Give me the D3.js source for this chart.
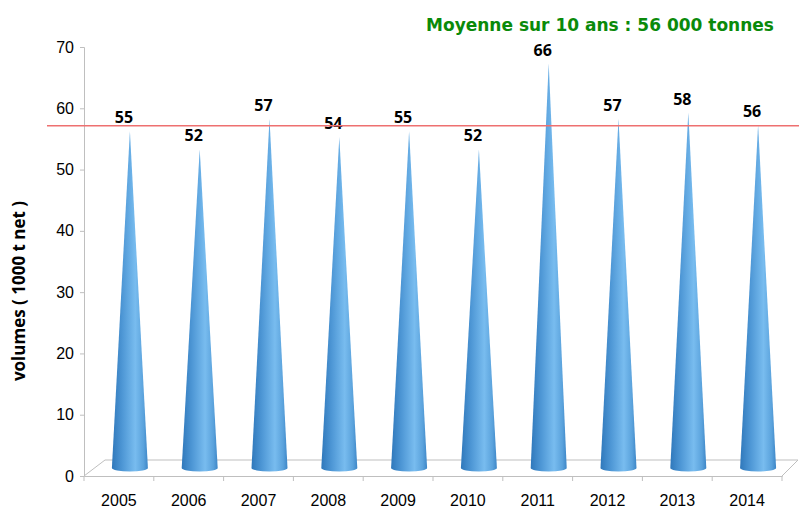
<!DOCTYPE html>
<html lang="fr">
<head>
    <meta charset="UTF-8">
    <title>Volumes 2005-2014</title>
    <script src="https://d3js.org/d3.v7.min.js"></script>
    <style>
        body { margin: 0; background: #fff; }
        svg { display: block; font-family: "Open Sans", "Liberation Sans", sans-serif; }
    </style>
</head>
<body>
    <svg id="chart" width="799" height="509"></svg>

    <script>
        // Data
        const years = ['2005', '2006', '2007', '2008', '2009', '2010', '2011', '2012', '2013', '2014'];
        const volumes = [55, 52, 57, 54, 55, 52, 66, 57, 58, 56];
        const average = 56;
        const yTicks = [0, 10, 20, 30, 40, 50, 60, 70];

        const svg = d3.select('#chart');
        const plotLeft = 84, plotRight = 782, plotTop = 47, plotBottom = 476;
        // 3D depth offset of the floor / cone centres
        const depthX = 21, depthY = 16;

        const x = d3.scaleBand().domain(years).range([plotLeft, plotRight]);
        const y = d3.scaleLinear().domain([0, 70]).range([plotBottom, plotTop]);

        // Gradient for cones
        const defs = svg.append('defs');
        const grad = defs.append('linearGradient').attr('id', 'coneGrad')
            .attr('x1', '0%').attr('x2', '100%').attr('y1', '0%').attr('y2', '0%');
        grad.append('stop').attr('offset', '0%').attr('stop-color', '#2f78bb');
        grad.append('stop').attr('offset', '30%').attr('stop-color', '#4f98d6');
        grad.append('stop').attr('offset', '65%').attr('stop-color', '#78bcef');
        grad.append('stop').attr('offset', '88%').attr('stop-color', '#5aa2dc');
        grad.append('stop').attr('offset', '100%').attr('stop-color', '#3d86c7');

        // Floor
        const floor = svg.append('g').attr('stroke', '#bfbfbf').attr('fill', 'none').attr('stroke-width', 1);
        floor.append('path')
            .attr('d', `M${plotLeft},${plotBottom} L${plotLeft + depthX},${plotBottom - depthY} L${plotRight + depthX - 5},${plotBottom - depthY} L${plotRight},${plotBottom}`);

        // Axes
        const yAxis = svg.append('g').attr('transform', `translate(${plotLeft},0)`)
            .call(d3.axisLeft(y).tickValues(yTicks).tickSize(4).tickPadding(6));
        yAxis.select('.domain').attr('stroke', '#bfbfbf');
        yAxis.selectAll('.tick line').attr('stroke', '#bfbfbf');
        yAxis.selectAll('text').attr('font-size', 16).attr('fill', '#000');

        const xAxis = svg.append('g').attr('transform', `translate(0,${plotBottom})`)
            .call(d3.axisBottom(x).tickSize(0).tickPadding(19));
        xAxis.select('.domain').attr('stroke', '#bfbfbf');
        xAxis.selectAll('text').attr('font-size', 16).attr('fill', '#000');
        // tick marks at category boundaries
        xAxis.selectAll('.sep')
            .data(years.concat(['end']))
            .enter().append('line')
            .attr('class', 'sep')
            .attr('x1', (d, i) => plotLeft + i * x.step()).attr('x2', (d, i) => plotLeft + i * x.step())
            .attr('y1', 0).attr('y2', 5)
            .attr('stroke', '#bfbfbf');

        // Cones (mid depth)
        const cx = d => x(d) + x.bandwidth() / 2 + 11;
        const cy = v => y(v) - 8;
        const baseY = cy(0);
        const halfW = 18, ry = 3.5;

        const coneData = years.map((d, i) => ({ year: d, value: volumes[i] }));

        svg.append('g').selectAll('path')
            .data(coneData)
            .enter().append('path')
            .attr('fill', 'url(#coneGrad)')
            .attr('d', d => {
                const c = cx(d.year), t = cy(d.value);
                return `M${c},${t} L${c - halfW},${baseY} A${halfW},${ry} 0 0 0 ${c + halfW},${baseY} Z`;
            });

        // Value labels
        svg.append('g').selectAll('text')
            .data(coneData)
            .enter().append('text')
            .attr('x', d => cx(d.year) - 6)
            .attr('y', d => cy(d.value) - 8)
            .attr('text-anchor', 'middle')
            .attr('font-size', 16)
            .attr('font-weight', 'bold')
            .text(d => d.value);

        // Average line
        svg.append('line')
            .attr('x1', 47).attr('x2', 799)
            .attr('y1', cy(average) + 1).attr('y2', cy(average) + 1)
            .attr('stroke', '#ee7070').attr('stroke-width', 1.5);

        // Title
        svg.append('text')
            .attr('x', 600).attr('y', 31)
            .attr('text-anchor', 'middle')
            .attr('font-family', 'DejaVu Sans, Verdana, sans-serif')
            .attr('font-size', 17)
            .attr('font-weight', 'bold')
            .attr('fill', '#0a8a0a')
            .text('Moyenne sur 10 ans : 56 000 tonnes');

        // Y label
        svg.append('text')
            .attr('transform', `translate(25,291) rotate(-90)`)
            .attr('text-anchor', 'middle')
            .attr('font-size', 17)
            .attr('font-weight', 'bold')
            .text('volumes ( 1000 t net )');
    </script>
</body>
</html>
